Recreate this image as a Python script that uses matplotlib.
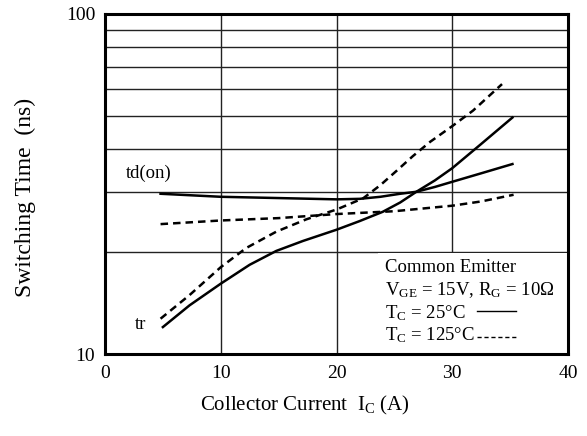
import matplotlib.pyplot as plt
from matplotlib.patches import Rectangle

plt.rcParams['font.family'] = ['Liberation Serif', 'DejaVu Serif']
plt.rcParams['mathtext.fontset'] = 'custom'
plt.rcParams['mathtext.rm'] = 'Liberation Serif'
plt.rcParams['mathtext.it'] = 'Liberation Serif'

# td(on) at Tc = 25C
td25_x = [4.8, 10, 14, 20, 22, 23.8, 25.5, 26.9, 28.5, 30, 32.5, 35.2]
td25_y = [29.6, 29.0, 28.8, 28.5, 28.6, 29.0, 29.6, 30.0, 31.0, 32.1, 34.0, 36.2]
# td(on) at Tc = 125C
td125_x = [4.8, 10, 15, 20, 25, 30, 32.5, 35.3]
td125_y = [24.1, 24.7, 25.1, 25.8, 26.3, 27.3, 28.1, 29.4]
# tr at Tc = 25C
tr25_x = [5.0, 7.3, 10, 12.5, 14.8, 17.1, 20, 22.0, 24.0, 25.5, 26.9, 28.5, 30, 32.4, 35.2]
tr25_y = [12.0, 13.9, 16.1, 18.3, 20.1, 21.5, 23.2, 24.6, 26.2, 27.9, 30.0, 32.4, 35.2, 41.2, 49.6]
# tr at Tc = 125C
tr125_x = [4.8, 7.3, 10, 12.2, 14.8, 17.4, 20, 22.3, 23.8, 25.2, 26.6, 28.1, 30, 31.8, 34.3]
tr125_y = [12.7, 14.9, 18.0, 20.5, 22.9, 24.9, 26.6, 28.7, 31.4, 34.6, 38.2, 42.1, 46.8, 52.0, 62.2]

fig = plt.figure(figsize=(5.87, 4.36), dpi=100)
ax = fig.add_axes([105 / 587, 1 - 354 / 436, 463 / 587, 340 / 436])

ax.set_yscale('log')
ax.set_xlim(0, 40)
ax.set_ylim(10, 100)

ax.set_axisbelow(True)
for gx in [10, 20, 30]:
    ax.axvline(gx, color='#222222', lw=1.0, zorder=0.5)
for gy in [20, 30, 40, 50, 60, 70, 80, 90]:
    ax.axhline(gy, color='#222222', lw=1.0, zorder=0.5)

# white panel behind the conditions text
ax.add_patch(Rectangle((0.59, 0.0), 0.41, 0.297, transform=ax.transAxes,
                       facecolor='white', edgecolor='none', zorder=1))

ax.plot(td25_x, td25_y, color='black', lw=1.8, zorder=3)
ax.plot(tr25_x, tr25_y, color='black', lw=1.8, zorder=3)
ax.plot(td125_x, td125_y, color='black', lw=1.8, ls=(0, (3, 2)), zorder=3)
ax.plot(tr125_x, tr125_y, color='black', lw=1.8, ls=(0, (3, 2)), zorder=3)

ax.set_xticks([0, 10, 20, 30, 40])
ax.set_yticks([10, 100])
ax.set_yticklabels(['10', '100'])
ax.minorticks_off()
ax.tick_params(length=0, labelsize=14, pad=8)
ax.tick_params(axis='y', pad=7)
for s in ax.spines.values():
    s.set_linewidth(2.2)

ax.text(1.8, 34.0, 'td(on)', fontsize=13.5, va='center')
ax.text(2.6, 12.2, 'tr', fontsize=13.5, va='center')

ax.text(24.2, 18.0, 'Common Emitter', fontsize=13.5, va='center', zorder=4)
ax.text(24.2, 15.4, r'V$_{\mathrm{GE}}$ = 15V, R$_{\mathrm{G}}$ = 10Ω', fontsize=13.5,
        va='center', zorder=4)
ax.text(24.2, 13.2, r'T$_{\mathrm{C}}$ = 25°C', fontsize=13.5, va='center', zorder=4)
ax.text(24.2, 11.35, r'T$_{\mathrm{C}}$ = 125°C', fontsize=13.5, va='center', zorder=4)
ax.plot([32.1, 35.5], [13.4, 13.4], color='black', lw=1.0, zorder=4)
ax.plot([32.1, 35.5], [11.2, 11.2], color='black', lw=1.0, ls=(0, (3, 2)), zorder=4)

fig.text(25 / 587, 1 - 197 / 436, 'Switching Time  (ns)', rotation=90,
         fontsize=17, ha='center', va='center')
fig.text(305 / 587, 1 - 405 / 436, r'Collector Current  I$_{\mathrm{C}}$ (A)',
         fontsize=15, ha='center', va='center')

fig.savefig('out.png', dpi=100)
